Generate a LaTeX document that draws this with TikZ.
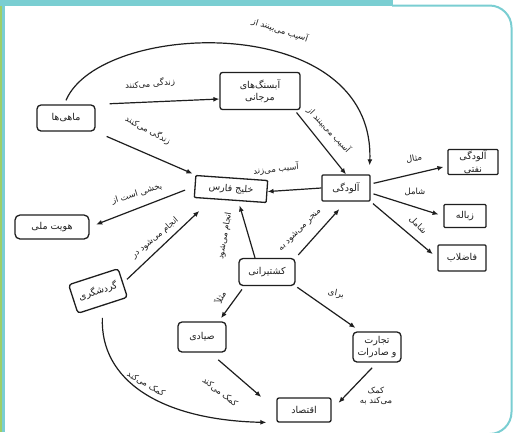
\documentclass[tikz,border=0pt]{standalone}
\usepackage{fontspec}
\usetikzlibrary{arrows.meta}
\TeXXeTstate=1
\newfontfamily\fafont[Script=Arabic]{DejaVu Sans}
\newcommand{\RL}[1]{\beginR #1\endR}
\definecolor{frameteal}{RGB}{122,206,210}
\definecolor{framegreen}{RGB}{158,206,104}
\definecolor{ink}{RGB}{30,30,30}
\tikzset{
  concept/.style={draw=ink, line width=1.3pt, rounded corners=2.5pt, inner sep=1pt,
    font=\fafont\fontsize{9.5}{12.5}\selectfont, align=center, text=ink},
  lbl/.style={font=\fafont\fontsize{8.5}{10.5}\selectfont, text=ink, inner sep=0pt, align=center},
  arr/.style={draw=ink, line width=1.2pt, -{Latex[length=6pt,width=5pt]}},
}
\begin{document}
\begin{tikzpicture}[x=1pt,y=-1pt]
\useasboundingbox (0,0) rectangle (524,432);
\fill[white] (0,0) rectangle (524,432);
% frame
\fill[framegreen] (0,0) rectangle (2.2,432);
\fill[frameteal] (2.2,0) rectangle (5,432);
\fill[frameteal] (0,0) rectangle (393,6);
\draw[frameteal, line width=2pt, rounded corners=22pt] (392,5.5) -- (511.5,5.5) -- (511.5,434) -- (470,434);

% concepts
\node[concept, minimum width=58pt, minimum height=26pt, rounded corners=4pt] (mahi) at (66,118) {\RL{ماهی‌ها}};
\node[concept, minimum width=80pt, minimum height=37pt] (marjan) at (260,91) {\RL{آبسنگ‌های}\\\RL{مرجانی}};
\node[concept, minimum width=72pt, minimum height=22pt, rotate=-4, rounded corners=1pt] (khalij) at (231,189) {\RL{خلیج فارس}};
\node[concept, minimum width=48pt, minimum height=26pt, rounded corners=1pt] (aloodegi) at (346,188) {\RL{آلودگی}};
\node[concept, minimum width=50pt, minimum height=25pt, rounded corners=1pt] (naft) at (473,162) {\RL{آلودگی}\\\RL{نفتی}};
\node[concept, minimum width=42pt, minimum height=23pt, rounded corners=1pt] (zobale) at (465,216) {\RL{زباله}};
\node[concept, minimum width=48pt, minimum height=26pt, rounded corners=1pt] (fazelab) at (462,258) {\RL{فاضلاب}};
\node[concept, minimum width=74pt, minimum height=24pt, rounded corners=5pt] (hoviat) at (52,227) {\RL{هویت ملی}};
\node[concept, minimum width=52pt, minimum height=30pt, rotate=18, rounded corners=3pt] (gardesh) at (98,291) {\RL{گردشگری}};
\node[concept, minimum width=56pt, minimum height=27pt, rounded corners=4pt] (keshti) at (267,272) {\RL{کشتیرانی}};
\node[concept, minimum width=48pt, minimum height=30pt, rounded corners=4pt] (sayadi) at (202,337) {\RL{صیادی}};
\node[concept, minimum width=48pt, minimum height=30pt, rounded corners=4pt] (tejarat) at (377,347) {\RL{تجارت}\\\RL{و صادرات}};
\node[concept, minimum width=54pt, minimum height=24pt, rounded corners=2pt] (eghtesad) at (304,410) {\RL{اقتصاد}};

% connectors
\draw[arr] ([yshift=4pt]mahi.north) .. controls (100,20) and (375,10) .. ([xshift=-1pt,yshift=9pt]aloodegi.north east);
\draw[arr, shorten <=14pt] (mahi.north east) -- ([yshift=-8pt]marjan.west);
\draw[arr, shorten <=12pt, shorten >=3pt] (mahi.south east) -- (khalij.north west);
\draw[arr, shorten <=3pt] ([xshift=-6pt]marjan.south east) -- (aloodegi.north);
\draw[arr] (aloodegi.west) -- (khalij.east);
\draw[arr, shorten <=3pt, shorten >=4pt] ([yshift=4pt]aloodegi.east) -- ([yshift=-4pt]naft.west);
\draw[arr, shorten <=3pt, shorten >=5pt] ([yshift=-5pt]aloodegi.east) -- (zobale.west);
\draw[arr, shorten <=3pt, shorten >=6pt] (aloodegi.south east) -- (fazelab.west);
\draw[arr, shorten <=10pt, shorten >=7pt] (khalij.west) -- (hoviat.east);
\draw[arr, shorten <=5pt, shorten >=15pt] (gardesh.east) -- ([xshift=-20pt]khalij.south);
\draw[arr, shorten >=5pt] ([xshift=-12pt]keshti.north) -- ([xshift=8pt]khalij.south);
\draw[arr, shorten <=4pt, shorten >=10pt] (keshti.north east) -- (aloodegi.south);
\draw[arr, shorten <=4pt, shorten >=4pt] ([xshift=6pt]keshti.south west) -- ([xshift=-8pt]sayadi.north east);
\draw[arr, shorten <=2pt, shorten >=6pt] (keshti.south east) -- ([xshift=8pt]tejarat.north west);
\draw[arr, shorten <=11pt, shorten >=20pt] ([xshift=8pt]sayadi.south) -- (eghtesad.west);
\draw[arr, shorten <=7pt, shorten >=10pt] (tejarat.south) -- (eghtesad.east);
\draw[arr, shorten <=12pt, shorten >=10pt] (gardesh.south) .. controls (100,380) and (160,420) .. (eghtesad.south west);

% connector labels
\node[lbl, rotate=-18] (l1) at (280,30) {\RL{آسیب می‌بینند از}};
\node[lbl, rotate=5] (l2) at (150,84) {\RL{زندگی می‌کنند}};
\node[lbl, rotate=-28] (l3) at (148,130) {\RL{زندگی می‌کنند}};
\node[lbl, rotate=-47] (l4) at (329,130) {\RL{آسیب می‌بینند از}};
\node[lbl, rotate=6] (l5) at (276,169) {\RL{آسیب می‌زند}};
\node[lbl, rotate=10] (l6) at (414,159) {\RL{مثال}};
\node[lbl] (l7) at (415,192) {\RL{شامل}};
\node[lbl, rotate=-45] (l8) at (418,225) {\RL{شامل}};
\node[lbl, rotate=17] (l9) at (137,194) {\RL{بخشی است از}};
\node[lbl, rotate=40] (l10) at (155,238) {\RL{انجام می‌شود در}};
\node[lbl, rotate=80] (l11) at (225,236) {\RL{انجام می‌شود}};
\node[lbl, rotate=45] (l12) at (300,230) {\RL{منجر می‌شود به}};
\node[lbl, rotate=65] (l13) at (220,297) {\RL{مثلاً}};
\node[lbl, rotate=-10] (l14) at (336,294) {\RL{برای}};
\node[lbl, rotate=-38] (l15) at (220,392) {\RL{کمک می‌کند}};
\node[lbl] (l16) at (376,396) {\RL{کمک}\\\RL{می‌کند به}};
\node[lbl, rotate=-30] (l17) at (146,384) {\RL{کمک می‌کند}};
\end{tikzpicture}
\end{document}
